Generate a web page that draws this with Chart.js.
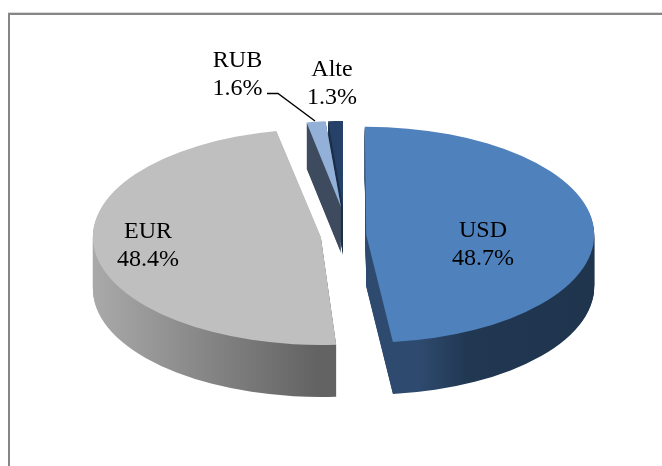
<!DOCTYPE html>
<html>
<head>
<meta charset="utf-8">
<style>html,body{margin:0;padding:0;background:#fff;overflow:hidden}canvas{display:block}</style>
<script src="https://cdn.jsdelivr.net/npm/chart.js@4/dist/chart.umd.min.js"></script>
</head>
<body>
<canvas id="c" width="662" height="466"></canvas>
<script>
const categories = ['USD', 'EUR', 'RUB', 'Alte'];
const shares = [48.7, 48.4, 1.6, 1.3];

const faceColors = ['#4f81bd', '#bfbfbf', '#93b0d8', '#254168'];
const sideStops = [
  [[391, '#2e4a6e'], [440, '#213852'], [594, '#1f334c']],
  [[95, '#b0b0b0'], [339, '#636363']],
  [[300, '#3e4b5f'], [345, '#3e4b5f']],
  [[320, '#1a2e47'], [345, '#1a2e47']]
];
// Each slice: ellipse half-axes, pie-centre, turn and extrusion depth (approximates the perspective)
const faceRx = [228, 228, 190, 183];
const faceRy = [108, 108, 86, 86];
const faceCx = [343.5, 343.5, 341, 343];
const faceCy = [235.5, 235.5, 207, 207];
const faceTurn = [-1.2, 0, 0, 0];
const depth = [52, 52, 46, 48];
const explode = [84, 84, 0, 0];
const drawOrder = [3, 2, 1, 0];
const labelAnchors = [[483, 237], [148, 238], [237.5, 67], [332, 76]];
const labelLeading = 27.5;
const labelFont = '24px "Liberation Serif", "Times New Roman", serif';
const leader = [[267, 93.5], [278, 93.5], [315, 121]];

const pie3d = {
  id: 'pie3d',
  beforeDraw(chart) {
    const c = chart.ctx;
    c.save();
    c.fillStyle = '#fff';
    c.fillRect(0, 0, chart.width, chart.height);
    c.fillStyle = '#d9d9d9';
    c.fillRect(8, 12, chart.width, 1);
    c.fillStyle = '#868686';
    c.fillRect(8, 13, chart.width, 2);
    c.fillRect(8, 13, 2, chart.height);
    c.restore();
  },
  beforeDatasetDraw(chart, args) {
    const c = chart.ctx;
    const arcs = args.meta.data;
    for (const i of drawOrder) {
      const arc = arcs[i];
      // Chart.js v4 moves a slice by offset/4 and grows its radius by offset/4 * fix
      const fix = 1 - Math.sin(Math.min(Math.PI, arc.circumference));
      const drawnRadius = arc.outerRadius + explode[i] / 4 * fix;
      const sx = faceRx[i] / drawnRadius;
      const sy = faceRy[i] / drawnRadius;
      const place = (dy) => {
        c.translate(faceCx[i], faceCy[i] + dy);
        c.scale(sx, sy);
        c.rotate(faceTurn[i] * Math.PI / 180);
        c.translate(-arc.x, -arc.y);
      };
      const toLocal = (X) => (X - faceCx[i]) / sx + arc.x;
      const stops = sideStops[i];
      const g = c.createLinearGradient(toLocal(stops[0][0]), 0, toLocal(stops[stops.length - 1][0]), 0);
      const span = stops[stops.length - 1][0] - stops[0][0];
      stops.forEach(s => g.addColorStop((s[0] - stops[0][0]) / span, s[1]));
      const original = arc.options;
      arc.options = Object.assign({}, original, { backgroundColor: g });
      for (let d = depth[i]; d >= 1; d--) {
        c.save();
        place(d);
        arc.draw(c);
        c.restore();
      }
      arc.options = original;
      c.save();
      place(0);
      arc.draw(c);
      c.restore();
    }
    return false;
  },
  afterDraw(chart) {
    const c = chart.ctx;
    c.save();
    c.strokeStyle = '#000';
    c.lineWidth = 1.4;
    c.beginPath();
    leader.forEach((p, i) => i ? c.lineTo(p[0], p[1]) : c.moveTo(p[0], p[1]));
    c.stroke();
    c.fillStyle = '#000';
    c.font = labelFont;
    c.textAlign = 'center';
    c.textBaseline = 'alphabetic';
    categories.forEach((name, i) => {
      const [x, y] = labelAnchors[i];
      c.fillText(name, x, y);
      c.fillText(shares[i].toFixed(1) + '%', x, y + labelLeading);
    });
    c.restore();
  }
};

new Chart(document.getElementById('c'), {
  type: 'pie',
  data: {
    labels: categories,
    datasets: [{
      data: shares,
      backgroundColor: faceColors,
      borderWidth: 0,
      offset: explode
    }]
  },
  options: {
    responsive: false,
    animation: false,
    layout: { padding: 0 },
    plugins: { legend: { display: false }, tooltip: { enabled: false } },
    events: []
  },
  plugins: [pie3d]
});
</script>
</body>
</html>
